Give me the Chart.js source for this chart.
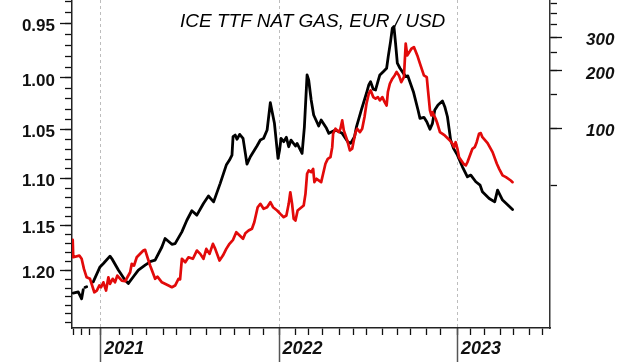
<!DOCTYPE html>
<html>
<head>
<meta charset="utf-8">
<script src="https://cdn.jsdelivr.net/npm/chart.js@4.4.1/dist/chart.umd.min.js"></script>
<style>
  body { margin: 0; background: #fff; }
  #wrap { position: relative; width: 620px; height: 362px; overflow: hidden; }
  #chart { position: absolute; left: 0; top: 0; }
  #title {
    position: absolute; left: 180px; top: 11px;
    font: italic 19px "Liberation Sans", Arial, sans-serif;
    line-height: 1; color: #000; white-space: nowrap;
  }
</style>
</head>
<body>
<div id="wrap">
  <canvas id="chart" width="620" height="362"></canvas>
  <div id="title">ICE TTF NAT GAS, EUR / USD</div>
</div>
<script>
// dates are decimal years (weekly data)
const gasDates = [
  2020.846, 2020.874, 2020.893, 2020.902, 2020.907, 2020.912, 2020.921, 2020.940, 2020.958, 2020.996,
  2021.015, 2021.052, 2021.062, 2021.099, 2021.137, 2021.155, 2021.183, 2021.211, 2021.249, 2021.281,
  2021.305, 2021.343, 2021.361, 2021.399, 2021.417, 2021.455, 2021.483, 2021.511, 2021.539, 2021.576,
  2021.604, 2021.633, 2021.670, 2021.704, 2021.722, 2021.736, 2021.742, 2021.754, 2021.764, 2021.779,
  2021.798, 2021.811, 2021.820, 2021.839, 2021.876, 2021.895, 2021.913, 2021.933, 2021.951, 2021.974,
  2021.994, 2022.003, 2022.011, 2022.026, 2022.041, 2022.054, 2022.067, 2022.092, 2022.101, 2022.129,
  2022.142, 2022.157, 2022.166, 2022.180, 2022.194, 2022.222, 2022.236, 2022.266, 2022.279, 2022.316,
  2022.354, 2022.385, 2022.401, 2022.423, 2022.434, 2022.461, 2022.490, 2022.503, 2022.513, 2022.528,
  2022.541, 2022.554, 2022.565, 2022.584, 2022.603, 2022.612, 2022.625, 2022.635, 2022.644, 2022.653,
  2022.663, 2022.678, 2022.691, 2022.710, 2022.722, 2022.753, 2022.779, 2022.790, 2022.812, 2022.828,
  2022.846, 2022.860, 2022.873, 2022.891, 2022.916, 2022.929, 2022.944, 2022.953, 2022.962, 2022.978,
  2023.000, 2023.028, 2023.056, 2023.075, 2023.103, 2023.127, 2023.140, 2023.178, 2023.209, 2023.225,
  2023.253, 2023.290, 2023.309
];
const gasPrice = [
  13.7, 13.9, 12.8, 14.3, null, 14.7, 14.8, null, 15.7, 18.8,
  19.6, 21.4, 20.8, 18.1, 16.0, 15.4, 16.7, 18.1, 19.2, 20.1,
  20.4, 23.9, 26.5, 24.7, 24.9, 28.7, 33.0, 37.0, 35.1, 40.4,
  44.2, 41.2, 51.5, 64.2, 68.2, 72.4, 90.4, 92.2, 87.6, 93.0,
  88.6, 73.9, 65.0, 71.0, 80.8, 86.8, 88.6, 98.0, 136.2, 106.2,
  69.6, 77.0, 88.6, 85.1, 89.7, 80.1, 86.8, 80.8, 83.4, 73.9,
  101.9, 190.4, 179.2, 140.8, 117.4, 102.8, 110.5, 100.0, 94.1, 98.0,
  94.1, 85.1, 83.4, 90.4, 101.9, 124.7, 152.6, 168.7, 175.6, 160.2,
  158.8, 175.6, 190.4, 198.1, 206.4, 237.4, 284.6, 334.6, 341.1, 279.2,
  219.3, 206.4, 198.1, 186.5, 188.1, 155.6, 124.7, 112.8, 114.2, 108.3,
  98.8, 106.2, 124.7, 132.5, 139.1, 129.8, 115.0, 100.0, 86.8, 78.5,
  72.4, 62.9, 55.7, 56.9, 52.5, 50.4, 46.5, 42.9, 41.2, 47.5,
  42.1, 39.1, 37.6
];

const fxDates = [
  2020.843, 2020.846, 2020.880, 2020.893, 2020.906, 2020.921, 2020.940, 2020.964, 2020.978, 2020.992,
  2021.002, 2021.015, 2021.030, 2021.043, 2021.052, 2021.067, 2021.080, 2021.093, 2021.118, 2021.137,
  2021.165, 2021.174, 2021.187, 2021.202, 2021.239, 2021.249, 2021.262, 2021.277, 2021.305, 2021.318,
  2021.343, 2021.380, 2021.399, 2021.417, 2021.436, 2021.445, 2021.455, 2021.474, 2021.492, 2021.517,
  2021.539, 2021.558, 2021.576, 2021.592, 2021.610, 2021.629, 2021.642, 2021.666, 2021.685, 2021.704,
  2021.722, 2021.742, 2021.760, 2021.779, 2021.798, 2021.811, 2021.829, 2021.848, 2021.861, 2021.880,
  2021.895, 2021.913, 2021.933, 2021.951, 2021.966, 2021.989, 2022.007, 2022.026, 2022.041, 2022.054,
  2022.063, 2022.073, 2022.082, 2022.092, 2022.104, 2022.138, 2022.148, 2022.157, 2022.166, 2022.180,
  2022.191, 2022.198, 2022.210, 2022.236, 2022.247, 2022.260, 2022.273, 2022.288, 2022.298, 2022.303,
  2022.316, 2022.335, 2022.344, 2022.354, 2022.363, 2022.382, 2022.397, 2022.410, 2022.419, 2022.429,
  2022.438, 2022.453, 2022.466, 2022.479, 2022.490, 2022.503, 2022.513, 2022.528, 2022.541, 2022.554,
  2022.565, 2022.579, 2022.592, 2022.603, 2022.610, 2022.621, 2022.635, 2022.648, 2022.659, 2022.672,
  2022.685, 2022.700, 2022.710, 2022.719, 2022.742, 2022.756, 2022.775, 2022.790, 2022.812, 2022.828,
  2022.835, 2022.846, 2022.854, 2022.860, 2022.878, 2022.888, 2022.902, 2022.929, 2022.958, 2022.972,
  2022.981, 2022.990, 2023.000, 2023.009, 2023.034, 2023.047, 2023.056, 2023.070, 2023.084, 2023.097,
  2023.108, 2023.121, 2023.131, 2023.140, 2023.169, 2023.197, 2023.221, 2023.234, 2023.253, 2023.272,
  2023.299, 2023.309
];
const eurUsd = [
  1.1656, 1.1850, 1.1831, 1.1867, 1.1981, 1.2077, 1.2094, 1.2249, 1.2229, 1.2171,
  1.2191, 1.2134, 1.2229, 1.2077, 1.2152, 1.2094, 1.2134, 1.2057, 1.2114, 1.2122,
  1.2019, 1.1924, 1.1943, 1.1850, 1.1775, 1.1767, 1.1850, 1.1943, 1.2094, 1.2069,
  1.2134, 1.2171, 1.2191, 1.2171, 1.2094, 1.2100, 1.1867, 1.1906, 1.1850, 1.1867,
  1.1775, 1.1812, 1.1867, 1.1756, 1.1812, 1.1700, 1.1756, 1.1887, 1.1831, 1.1756,
  1.1700, 1.1656, 1.1572, 1.1609, 1.1645, 1.1583, 1.1554, 1.1535, 1.1464, 1.1302,
  1.1266, 1.1319, 1.1302, 1.1248, 1.1302, 1.1337, 1.1373, 1.1409, 1.1391, 1.1266,
  1.1143, 1.1266, 1.1427, 1.1445, 1.1337, 1.1284, 1.1160, 1.0950, 1.0916, 1.0933,
  1.0899, 1.1037, 1.1002, 1.1037, 1.0950, 1.0847, 1.0796, 1.0779, 1.0678, 1.0543,
  1.0493, 1.0527, 1.0493, 1.0411, 1.0510, 1.0610, 1.0711, 1.0694, 1.0610, 1.0527,
  1.0493, 1.0527, 1.0493, 1.0378, 1.0248, 1.0151, 1.0119, 1.0184, 1.0199, 1.0184,
  1.0216, 1.0184, 1.0232, 1.0265, 1.0135, 1.0056, 1.0008, 0.9977, 0.9945, 0.9977,
  1.0041, 0.9993, 0.9682, 0.9790, 0.9728, 0.9713, 0.9790, 0.9867, 0.9977, 0.9993,
  1.0119, 1.0313, 1.0362, 1.0329, 1.0395, 1.0444, 1.0527, 1.0560, 1.0610, 1.0644,
  1.0678, 1.0628, 1.0694, 1.0779, 1.0847, 1.0864, 1.0831, 1.0762, 1.0694, 1.0678,
  1.0628, 1.0543, 1.0537, 1.0577, 1.0637, 1.0728, 1.0847, 1.0899, 1.0967, 1.0985,
  1.1020, 1.1037
];

// axis ticks
const yearTicks = [2021, 2022, 2023];
const monthTicks = [
  2020.850, 2020.893, 2020.936,
  2021.104, 2021.180, 2021.254, 2021.352, 2021.427, 2021.502, 2021.592, 2021.670, 2021.749, 2021.835, 2021.913,
  2022.092, 2022.166, 2022.242, 2022.340, 2022.416, 2022.490, 2022.579, 2022.663, 2022.738, 2022.828, 2022.907,
  2023.071, 2023.149, 2023.239, 2023.315, 2023.402, 2023.478
];
const fxTicks = [
  0.93, 0.94, 0.95, 0.96, 0.97, 0.98, 0.99, 1.00, 1.01, 1.02, 1.03, 1.04, 1.05, 1.06, 1.07, 1.08, 1.09,
  1.10, 1.11, 1.12, 1.13, 1.14, 1.15, 1.16, 1.17, 1.18, 1.19, 1.20, 1.21, 1.22, 1.23, 1.24, 1.25, 1.26
];
const fxLabels = [0.95, 1.00, 1.05, 1.10, 1.15, 1.20];
const gasTicks = [50, 100, 150, 200, 250, 300, 350, 400, 450];
const gasLabels = [100, 200, 300];

const xMin = 2020.839, xMax = 2023.519;
const fxMin = 0.929, fxMax = 1.267;
const gasMin = 9.0, gasMax = 470;

const ink = '#111';
const sideFont = { family: '"Liberation Sans", Arial, sans-serif', size: 17, weight: 'bold' };
const yearFont = { family: '"Liberation Sans", Arial, sans-serif', size: 18, weight: 'bold', style: 'italic' };

const useTicks = (values) => (scale) => { scale.ticks = values.map(v => ({ value: v })); };
const fixSize = (size) => (scale) => {
  if (size != null) {
    if (scale.isHorizontal()) scale.height = size; else scale.width = size;
  }
  scale.paddingTop = scale.paddingBottom = scale.paddingLeft = scale.paddingRight = 0;
};
// axes that only add extra tick marks
const markAxis = (extra) => Object.assign({
  display: true,
  afterFit: fixSize(null),
  border: { display: false },
  ticks: { display: false, autoSkip: false },
}, extra);

new Chart(document.getElementById('chart'), {
  type: 'line',
  data: {
    datasets: [
      {
        label: 'EUR / USD',
        data: fxDates.map((x, i) => ({ x, y: eurUsd[i] })),
        yAxisID: 'y', xAxisID: 'x',
        borderColor: '#e20a0a', borderWidth: 2.7,
        pointRadius: 0, tension: 0, borderJoinStyle: 'round', borderCapStyle: 'round'
      },
      {
        label: 'ICE TTF NAT GAS',
        data: gasDates.map((x, i) => ({ x, y: gasPrice[i] })),
        yAxisID: 'yGas', xAxisID: 'x',
        borderColor: '#000', borderWidth: 2.8,
        pointRadius: 0, tension: 0, borderJoinStyle: 'round', borderCapStyle: 'round'
      }
    ]
  },
  options: {
    responsive: false,
    animation: false,
    events: [],
    layout: { padding: 0 },
    plugins: { legend: { display: false }, tooltip: { enabled: false } },
    scales: {
      x: {
        type: 'linear', position: 'bottom', min: xMin, max: xMax, bounds: 'data',
        afterBuildTicks: useTicks([...monthTicks, ...yearTicks].sort((a, b) => a - b)),
        afterFit: fixSize(34),
        grid: { drawOnChartArea: false, tickLength: 7, tickColor: ink, tickWidth: 1.3 },
        border: { color: '#222', width: 1.5 },
        ticks: {
          autoSkip: false, maxRotation: 0, align: 'start', labelOffset: 3.5, padding: 3, color: ink,
          font: yearFont,
          callback: (v) => yearTicks.includes(v) ? String(v) : ''
        }
      },
      // dashed year lines in the plot and long marks under the axis
      xYear: markAxis({
        type: 'linear', axis: 'x', position: { y: fxMax }, min: xMin, max: xMax, bounds: 'data',
        afterBuildTicks: useTicks(yearTicks),
        grid: { drawOnChartArea: true, color: '#bdbdbd', lineWidth: 1, tickLength: 34, tickColor: '#555', tickWidth: 1.5, tickBorderDash: [] },
        border: { display: false, dash: [3, 3] }
      }),
      y: {
        type: 'logarithmic', position: 'left', reverse: true, min: fxMin, max: fxMax, bounds: 'data',
        afterBuildTicks: useTicks(fxTicks),
        afterFit: fixSize(72),
        grid: { drawOnChartArea: false, tickLength: 7, tickColor: ink, tickWidth: 1.3 },
        border: { color: '#222', width: 1.5 },
        ticks: {
          autoSkip: false, padding: 10, labelOffset: 3, color: ink, font: sideFont,
          callback: (v) => fxLabels.includes(v) ? v.toFixed(2) : ''
        }
      },
      yMajor: markAxis({
        type: 'logarithmic', axis: 'y', position: { x: xMin }, reverse: true, min: fxMin, max: fxMax, bounds: 'data',
        afterBuildTicks: useTicks(fxLabels),
        grid: { drawOnChartArea: false, tickLength: 12, tickColor: ink, tickWidth: 1.3 }
      }),
      yGas: {
        type: 'logarithmic', position: 'right', min: gasMin, max: gasMax, bounds: 'data',
        afterBuildTicks: useTicks(gasTicks),
        afterFit: fixSize(70),
        grid: { drawOnChartArea: false, tickLength: 7, tickColor: ink, tickWidth: 1.3 },
        border: { color: '#333', width: 1.5 },
        ticks: {
          autoSkip: false, padding: 29, labelOffset: 3, color: ink,
          font: Object.assign({}, sideFont, { style: 'italic' }),
          callback: (v) => gasLabels.includes(v) ? String(v) : ''
        }
      },
      yGasMajor: markAxis({
        type: 'logarithmic', axis: 'y', position: { x: xMax }, min: gasMin, max: gasMax, bounds: 'data',
        afterBuildTicks: useTicks(gasLabels),
        grid: { drawOnChartArea: false, tickLength: -12, tickColor: ink, tickWidth: 1.3 }
      })
    }
  }
});
</script>
</body>
</html>
